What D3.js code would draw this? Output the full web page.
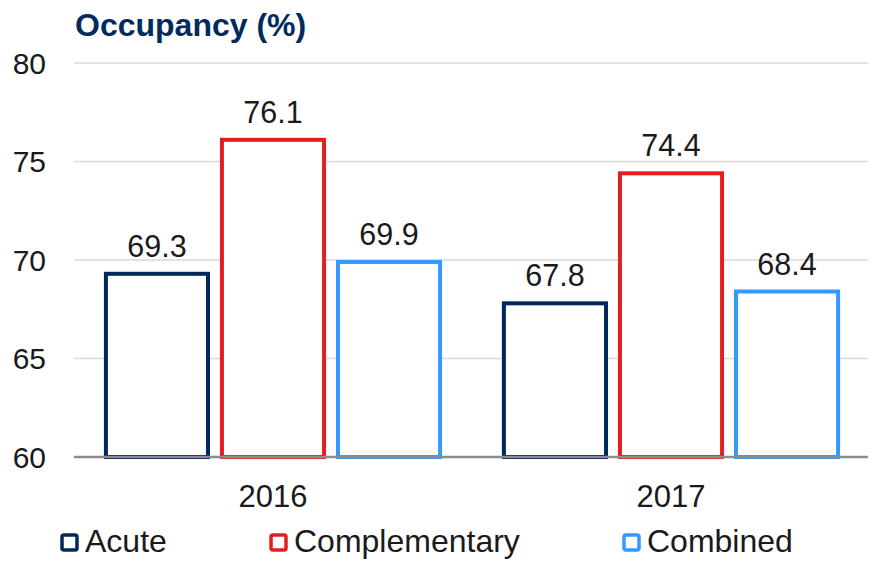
<!DOCTYPE html>
<html>
<head>
<meta charset="utf-8">
<script src="https://cdn.jsdelivr.net/npm/d3@7"></script>
<style>
  html, body { margin: 0; padding: 0; background: #fff; }
  svg { display: block; }
  text { font-family: "Liberation Sans", Arial, sans-serif; }
</style>
</head>
<body>
<svg id="chart" width="874" height="563"></svg>
<script>
const categories = ["2016", "2017"];
const seriesNames = ["Acute", "Complementary", "Combined"];
const acute = [69.3, 67.8];
const complementary = [76.1, 74.4];
const combined = [69.9, 68.4];
const yTicks = [60, 65, 70, 75, 80];
const colors = ["#00285a", "#e41e1e", "#3399ff"];
const title = "Occupancy (%)";

const seriesValues = [acute, complementary, combined];
const svg = d3.select("#chart");

const plotLeft = 74, plotRight = 870, plotTop = 63, plotBottom = 457;

const y = d3.scaleLinear().domain([60, 80]).range([plotBottom, plotTop]);
const x0 = d3.scaleBand().domain(categories).range([plotLeft, plotRight]).padding(0);
const x1 = d3.scaleBand().domain(seriesNames).range([0, x0.bandwidth()])
  .paddingInner(0.12).paddingOuter(0.275);

// Gridlines
svg.append("g").selectAll("line").data(yTicks.filter(t => t !== 60)).join("line")
  .attr("x1", plotLeft).attr("x2", plotRight - 2)
  .attr("y1", d => y(d)).attr("y2", d => y(d))
  .attr("stroke", "#d9d9d9").attr("stroke-width", 1.5);

// Y tick labels
svg.append("g").selectAll("text").data(yTicks).join("text")
  .attr("x", 46).attr("y", d => y(d))
  .attr("text-anchor", "end").attr("dominant-baseline", "central")
  .attr("font-size", 30).attr("fill", "#1a1a1a")
  .text(d => d);

// Bars
const data = [];
categories.forEach((c, ci) => {
  seriesNames.forEach((s, si) => {
    data.push({ cat: c, series: s, si, value: seriesValues[si][ci] });
  });
});

const groups = svg.append("g");
groups.selectAll("rect").data(data).join("rect")
  .attr("x", d => x0(d.cat) + x1(d.series))
  .attr("width", x1.bandwidth())
  .attr("y", d => y(d.value))
  .attr("height", d => y(60) - y(d.value))
  .attr("fill", "#fff")
  .attr("stroke", d => colors[d.si])
  .attr("stroke-width", 4);

// Value labels
groups.selectAll("text").data(data).join("text")
  .attr("x", d => x0(d.cat) + x1(d.series) + x1.bandwidth() / 2)
  .attr("y", d => y(d.value) - 17)
  .attr("text-anchor", "middle")
  .attr("font-size", 30.5).attr("fill", "#1a1a1a")
  .text(d => d.value.toFixed(1));

// Baseline axis
svg.append("line")
  .attr("x1", plotLeft).attr("x2", plotRight - 2)
  .attr("y1", y(60)).attr("y2", y(60))
  .attr("stroke", "#8c8c8c").attr("stroke-width", 2.5);

// Category labels
svg.append("g").selectAll("text").data(categories).join("text")
  .attr("x", d => x0(d) + x0.bandwidth() / 2)
  .attr("y", 507)
  .attr("text-anchor", "middle")
  .attr("font-size", 31).attr("fill", "#1a1a1a")
  .text(d => d);

// Title
svg.append("text")
  .attr("x", 75).attr("y", 36)
  .attr("font-size", 32).attr("font-weight", "bold")
  .attr("fill", "#002b5c")
  .text(title);

// Legend
const legendX = [62, 271, 624];
const leg = svg.append("g").selectAll("g").data(seriesNames).join("g")
  .attr("transform", (d, i) => `translate(${legendX[i]},535)`);
leg.append("rect")
  .attr("x", 0).attr("y", 0).attr("width", 15).attr("height", 15)
  .attr("rx", 2)
  .attr("fill", "#fff")
  .attr("stroke", (d, i) => colors[i]).attr("stroke-width", 3.5);
leg.append("text")
  .attr("x", 23).attr("y", 17)
  .attr("font-size", 32).attr("fill", "#1a1a1a")
  .text(d => d);
</script>
</body>
</html>
